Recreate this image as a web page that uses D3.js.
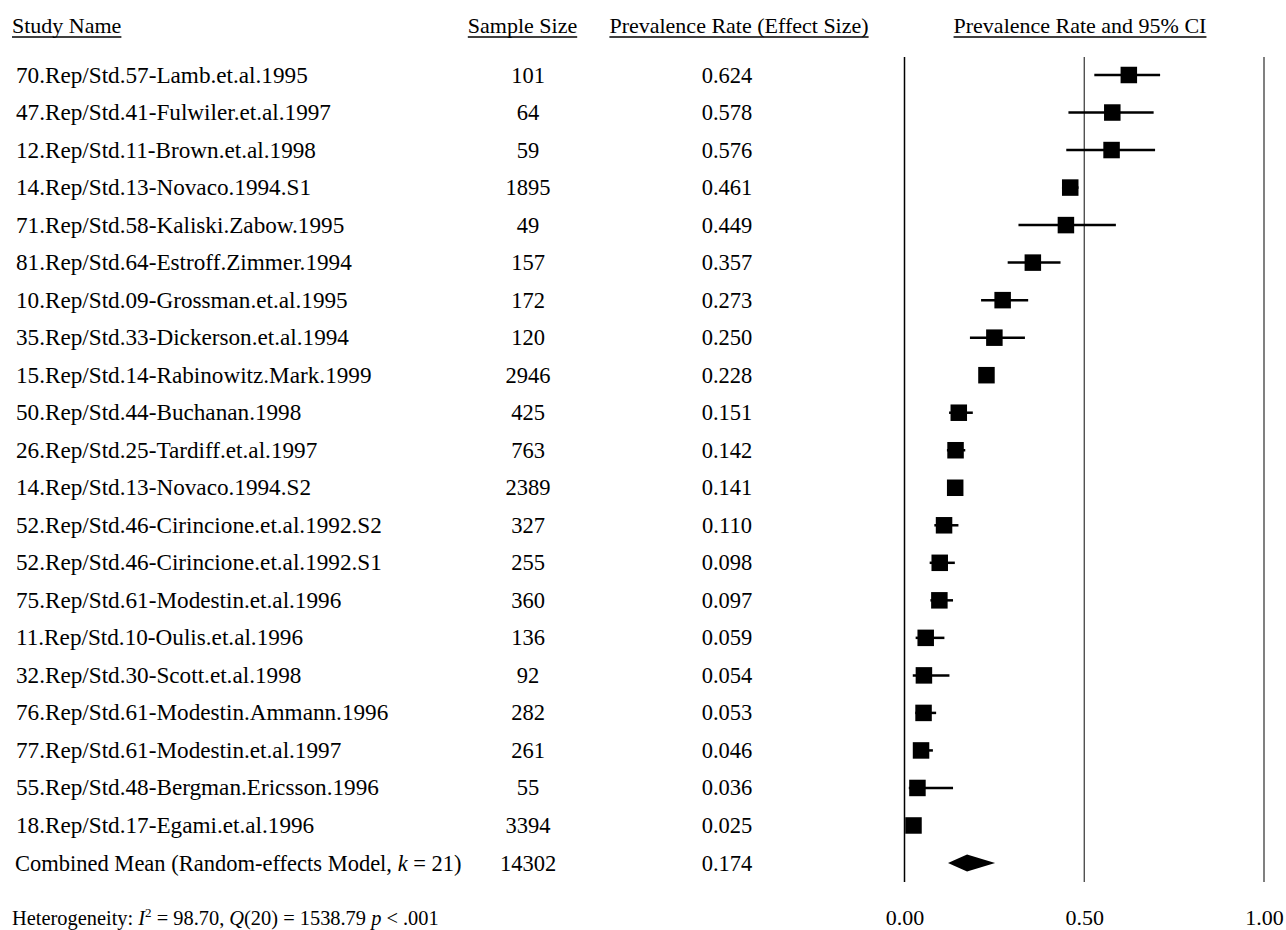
<!DOCTYPE html>
<html>
<head>
<meta charset="utf-8" />
<title>Forest plot</title>
<script src="https://cdnjs.cloudflare.com/ajax/libs/d3/7.8.5/d3.min.js"></script>
<style>
    body { margin: 0; background: #fff; }
    svg { display: block; font-family: "Liberation Serif", "Times New Roman", serif; }
</style>
</head>
<body>
<div id="chart"></div>
<script>
// study rows
var studyNames = [
    "70.Rep/Std.57-Lamb.et.al.1995",
    "47.Rep/Std.41-Fulwiler.et.al.1997",
    "12.Rep/Std.11-Brown.et.al.1998",
    "14.Rep/Std.13-Novaco.1994.S1",
    "71.Rep/Std.58-Kaliski.Zabow.1995",
    "81.Rep/Std.64-Estroff.Zimmer.1994",
    "10.Rep/Std.09-Grossman.et.al.1995",
    "35.Rep/Std.33-Dickerson.et.al.1994",
    "15.Rep/Std.14-Rabinowitz.Mark.1999",
    "50.Rep/Std.44-Buchanan.1998",
    "26.Rep/Std.25-Tardiff.et.al.1997",
    "14.Rep/Std.13-Novaco.1994.S2",
    "52.Rep/Std.46-Cirincione.et.al.1992.S2",
    "52.Rep/Std.46-Cirincione.et.al.1992.S1",
    "75.Rep/Std.61-Modestin.et.al.1996",
    "11.Rep/Std.10-Oulis.et.al.1996",
    "32.Rep/Std.30-Scott.et.al.1998",
    "76.Rep/Std.61-Modestin.Ammann.1996",
    "77.Rep/Std.61-Modestin.et.al.1997",
    "55.Rep/Std.48-Bergman.Ericsson.1996",
    "18.Rep/Std.17-Egami.et.al.1996"
];
var sampleSizes = [101, 64, 59, 1895, 49, 157, 172, 120, 2946, 425, 763, 2389, 327, 255, 360, 136, 92, 282, 261, 55, 3394];
var rates = [0.624, 0.578, 0.576, 0.461, 0.449, 0.357, 0.273, 0.250, 0.228, 0.151, 0.142, 0.141, 0.110, 0.098, 0.097, 0.059, 0.054, 0.053, 0.046, 0.036, 0.025];
var ciLower = [0.528, 0.456, 0.450, 0.438, 0.317, 0.287, 0.213, 0.182, 0.213, 0.124, 0.118, 0.128, 0.083, 0.070, 0.072, 0.031, 0.023, 0.030, 0.028, 0.012, 0.020];
var ciUpper = [0.711, 0.693, 0.697, 0.484, 0.588, 0.434, 0.344, 0.335, 0.243, 0.190, 0.169, 0.155, 0.150, 0.140, 0.135, 0.111, 0.125, 0.088, 0.079, 0.135, 0.031];

// combined mean
var combinedN = 14302;
var combinedRate = 0.174;
var combinedLower = 0.121;
var combinedUpper = 0.252;

var axisTicks = [0, 0.5, 1];
var headers = ["Study Name", "Sample Size", "Prevalence Rate (Effect Size)", "Prevalence Rate and 95% CI"];

var W = 1286, H = 930;
var svg = d3.select("#chart").append("svg").attr("width", W).attr("height", H);

var x = d3.scaleLinear().domain([0, 1]).range([904.5, 1264]);
var y = d3.scalePoint().domain(d3.range(studyNames.length + 1)).range([75, 863]);

var rowFont = "22.5px";

// headers (underlined)
var headerPos = [
    {x: 12, anchor: "start"},
    {x: 522.5, anchor: "middle"},
    {x: 739, anchor: "middle"},
    {x: 1080, anchor: "middle"}
];
headers.forEach(function (h, i) {
    var t = svg.append("text")
        .attr("x", headerPos[i].x)
        .attr("y", 33)
        .attr("text-anchor", headerPos[i].anchor)
        .style("font-size", "22px")
        .text(h);
    var len = t.node().getComputedTextLength();
    var x0 = headerPos[i].anchor === "middle" ? headerPos[i].x - len / 2 : headerPos[i].x;
    svg.append("line")
        .attr("x1", x0).attr("x2", x0 + len)
        .attr("y1", 37).attr("y2", 37)
        .attr("stroke", "#000").attr("stroke-width", 1.3);
});

// reference lines
var refColors = ["#000", "#333", "#808080"];
var refWidths = [1.5, 1.2, 2];
axisTicks.forEach(function (v, i) {
    svg.append("line")
        .attr("x1", x(v)).attr("x2", x(v))
        .attr("y1", 57).attr("y2", 882)
        .attr("stroke", refColors[i])
        .attr("stroke-width", refWidths[i]);
});

// text columns
var rows = svg.append("g");
rows.selectAll(".name").data(studyNames).enter().append("text")
    .attr("x", 16).attr("y", function (d, i) { return y(i) + 7.5; })
    .style("font-size", "23.2px").text(function (d) { return d; });
rows.selectAll(".n").data(sampleSizes).enter().append("text")
    .attr("x", 528).attr("y", function (d, i) { return y(i) + 7.5; })
    .attr("text-anchor", "middle")
    .style("font-size", rowFont).text(function (d) { return d; });
rows.selectAll(".r").data(rates).enter().append("text")
    .attr("x", 727).attr("y", function (d, i) { return y(i) + 7.5; })
    .attr("text-anchor", "middle")
    .style("font-size", rowFont).text(function (d) { return d3.format(".3f")(d); });

// CI whiskers and squares
var marks = svg.append("g");
marks.selectAll(".ci").data(rates).enter().append("line")
    .attr("x1", function (d, i) { return x(ciLower[i]); })
    .attr("x2", function (d, i) { return x(ciUpper[i]); })
    .attr("y1", function (d, i) { return y(i); })
    .attr("y2", function (d, i) { return y(i); })
    .attr("stroke", "#000").attr("stroke-width", 2.5);
var sq = 16.5;
marks.selectAll(".sq").data(rates).enter().append("rect")
    .attr("x", function (d) { return x(d) - sq / 2; })
    .attr("y", function (d, i) { return y(i) - sq / 2; })
    .attr("width", sq).attr("height", sq)
    .attr("fill", "#000");

// combined row
var yc = y(studyNames.length);
var ct = svg.append("text").attr("x", 15).attr("y", yc + 7.5).style("font-size", rowFont);
ct.append("tspan").text("Combined Mean (Random-effects Model, ");
ct.append("tspan").style("font-style", "italic").text("k");
ct.append("tspan").text(" = 21)");
svg.append("text").attr("x", 528).attr("y", yc + 7.5).attr("text-anchor", "middle")
    .style("font-size", rowFont).text(combinedN);
svg.append("text").attr("x", 727).attr("y", yc + 7.5).attr("text-anchor", "middle")
    .style("font-size", rowFont).text(d3.format(".3f")(combinedRate));
svg.append("path")
    .attr("d", "M" + x(combinedLower) + "," + yc +
        "L" + x(combinedRate) + "," + (yc - 8.5) +
        "L" + x(combinedUpper) + "," + yc +
        "L" + x(combinedRate) + "," + (yc + 8.5) + "Z")
    .attr("fill", "#000");

// x axis labels
var axis = d3.axisBottom(x).tickValues(axisTicks).tickFormat(d3.format(".2f")).tickSize(0);
var ax = svg.append("g").attr("transform", "translate(0,904)").call(axis);
ax.select(".domain").remove();
ax.selectAll("text")
    .attr("dy", "0")
    .attr("y", 21)
    .style("font-family", "'Liberation Serif', 'Times New Roman', serif")
    .style("font-size", "22px")
    .attr("fill", "#000");

// heterogeneity note
var ht = svg.append("text").attr("x", 12).attr("y", 925).style("font-size", "20.4px");
ht.append("tspan").text("Heterogeneity: ");
ht.append("tspan").style("font-style", "italic").text("I");
ht.append("tspan").attr("dy", -8).style("font-size", "13px").text("2");
ht.append("tspan").attr("dy", 8).text(" = 98.70, ");
ht.append("tspan").style("font-style", "italic").text("Q");
ht.append("tspan").text("(20) = 1538.79 ");
ht.append("tspan").style("font-style", "italic").text("p");
ht.append("tspan").text(" < .001");
</script>
</body>
</html>
